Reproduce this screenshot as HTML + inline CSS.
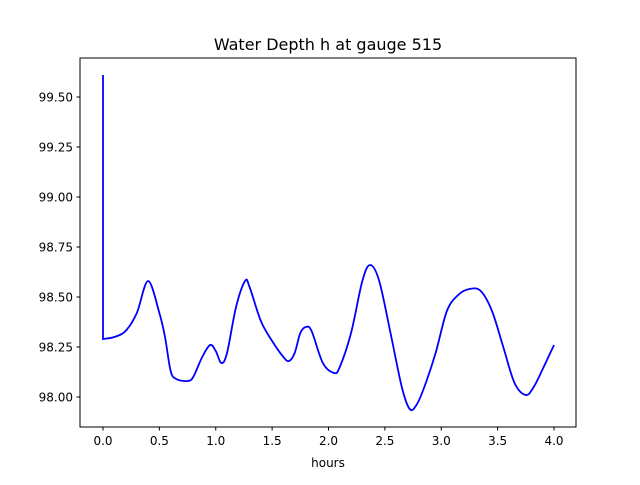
<!DOCTYPE html>
<html><head><meta charset="utf-8"><style>
body{margin:0;background:#fff;font-family:"Liberation Sans","DejaVu Sans",sans-serif}
</style></head><body>
<svg id="chart" width="640" height="480" xmlns="http://www.w3.org/2000/svg" font-family="DejaVu Sans, Liberation Sans, sans-serif">
<rect width="640" height="480" fill="#fff"/>
<text x="328" y="50" text-anchor="middle" font-size="16">Water Depth h at gauge 515</text>
<text x="328" y="467" text-anchor="middle" font-size="12">hours</text>
<g id="axes"></g>
</svg>
<script>
const times=[0,0,0.1,0.2,0.3,0.4,0.5,0.55,0.6,0.65,0.75,0.8,0.88,0.95,1.0,1.05,1.1,1.18,1.26,1.3,1.4,1.5,1.6,1.65,1.7,1.75,1.8,1.85,1.95,2.05,2.1,2.2,2.3,2.37,2.45,2.55,2.65,2.72,2.78,2.85,2.95,3.05,3.15,3.25,3.35,3.45,3.55,3.65,3.75,3.82,3.9,4.0];
const depth=[99.61,98.29,98.30,98.33,98.42,98.58,98.42,98.30,98.13,98.09,98.08,98.10,98.20,98.26,98.23,98.17,98.22,98.45,98.58,98.55,98.38,98.28,98.20,98.18,98.22,98.32,98.35,98.33,98.17,98.12,98.15,98.32,98.58,98.66,98.58,98.32,98.05,97.94,97.96,98.05,98.22,98.43,98.51,98.54,98.53,98.43,98.25,98.07,98.01,98.05,98.14,98.26];
const xTicks=[0,0.5,1,1.5,2,2.5,3,3.5,4];
const xTickLabels=["0.0","0.5","1.0","1.5","2.0","2.5","3.0","3.5","4.0"];
const yTicks=[98,98.25,98.5,98.75,99,99.25,99.5];
const yTickLabels=["98.00","98.25","98.50","98.75","99.00","99.25","99.50"];
const L=80,R=576,T=58,B=427;
const xs=v=>103+v*112.75;
const ys=v=>397-(v-98)*200;
const NS="http://www.w3.org/2000/svg";
const g=document.getElementById('axes');
function mk(t,a){const e=document.createElementNS(NS,t);for(const k in a)e.setAttribute(k,a[k]);g.appendChild(e);return e;}
let d="M"+xs(times[0])+","+ys(depth[0])+" L"+xs(times[1])+","+ys(depth[1]);
const P=times.map((t,i)=>[xs(t),ys(depth[i])]);
for(let i=1;i<P.length-1;i++){
  const p0=P[Math.max(1,i-1)],p1=P[i],p2=P[i+1],p3=P[Math.min(P.length-1,i+2)];
  const c1=[p1[0]+(p2[0]-p0[0])/6,p1[1]+(p2[1]-p0[1])/6];
  const c2=[p2[0]-(p3[0]-p1[0])/6,p2[1]-(p3[1]-p1[1])/6];
  d+=` C${c1[0]},${c1[1]} ${c2[0]},${c2[1]} ${p2[0]},${p2[1]}`;
}
const line=mk('path',{d:d,fill:'none',stroke:'#0000ff','stroke-width':1.8});


const fr=mk('rect',{x:L,y:T,width:R-L,height:B-T,fill:'none',stroke:'#000','stroke-width':1});


xTicks.forEach((v,i)=>{
  const x=xs(v);
  const tk=mk('line',{x1:x,x2:x,y1:B,y2:B+3.5,stroke:'#000'});
  
  
  const tx=mk('text',{x:x,y:B+18,'text-anchor':'middle','font-size':12});
  tx.textContent=xTickLabels[i];
  
  
});
yTicks.forEach((v,i)=>{
  const y=ys(v);
  const tk=mk('line',{x1:L-3.5,x2:L,y1:y,y2:y,stroke:'#000'});
  
  
  const tx=mk('text',{x:L-7,y:y+4.5,'text-anchor':'end','font-size':12});
  tx.textContent=yTickLabels[i];
  
  
});
</script>
</body></html>
